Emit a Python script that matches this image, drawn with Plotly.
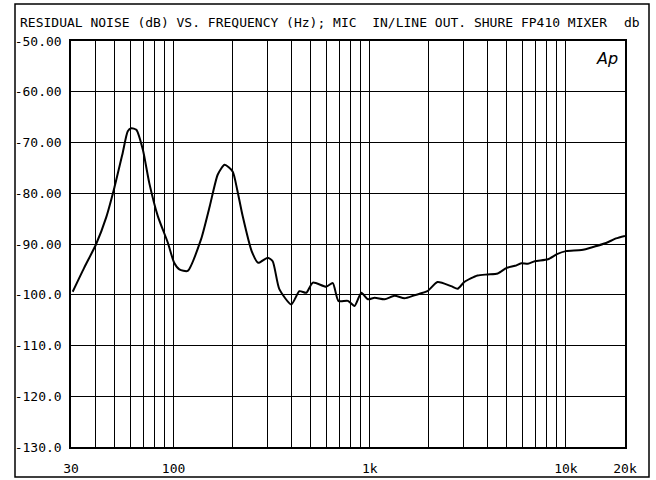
import plotly.graph_objects as go

# ---- data ----
freq_hz = [30.6, 35.0, 40.2, 45.3, 49.9, 55.0, 58.4, 60.9, 64.6, 69.7, 75.2, 83.1, 93.4, 100.7, 107,
           118, 138, 153, 168, 182, 200, 211, 225,
           250, 270, 302, 320, 346, 398, 438, 475, 513, 600, 648, 692, 774, 837, 906, 979, 1059,
           1190, 1338, 1503, 1690, 1968, 2214, 2598, 2808, 3034, 3540, 3990, 4490, 4990, 5500,
           5920, 6400, 6940, 8100, 9000, 10000, 12000, 14000, 16000, 18000, 20000]
noise_db = [-99.4, -94.7, -90.1, -84.8, -78.9, -72.1, -67.8, -67.2, -67.5, -71.4, -78.0, -84.5, -89.7,
            -93.7, -95.0, -95.3, -89.1, -82.5, -76.3, -74.4, -75.7, -79.3, -84.5,
            -91.4, -93.7, -92.7, -93.4, -98.9, -101.9, -99.3, -99.6, -97.6,
            -98.4, -97.7, -101.2, -101.2, -102.2, -99.6, -100.9, -100.6, -100.9, -100.2, -100.7,
            -100.1, -99.3, -97.5, -98.3, -98.8, -97.5, -96.2, -96.0, -95.8, -94.7, -94.3, -93.8,
            -93.9, -93.4, -93.0, -92.0, -91.4, -91.2, -90.5, -89.8, -88.9, -88.4]

x_grid_vals = [30, 40, 50, 60, 70, 80, 90, 100, 200, 300, 400, 500, 600, 700, 800, 900, 1000,
               2000, 3000, 4000, 5000, 6000, 7000, 8000, 9000, 10000, 20000]
x_grid_text = ["30", "", "", "", "", "", "", "100", "", "", "", "", "", "", "", "", "1k",
               "", "", "", "", "", "", "", "", "10k", "20k"]
y_tick_vals = [-50, -60, -70, -80, -90, -100, -110, -120, -130]
y_tick_text = ["-50.00", "-60.00", "-70.00", "-80.00", "-90.00", "-100.0", "-110.0", "-120.0", "-130.0"]

title_text = "RESIDUAL NOISE (dB) VS. FREQUENCY (Hz); MIC  IN/LINE OUT. SHURE FP410 MIXER"
unit_text = "db"
logo_text = "Ap"

FONT = "DejaVu Sans Mono"

fig = go.Figure()
fig.add_trace(go.Scatter(x=freq_hz, y=noise_db, mode="lines",
                         line=dict(color="black", width=2, shape="spline", smoothing=0.6),
                         showlegend=False, hoverinfo="skip"))

W, H = 656, 480
L, R, T, B = 71, 625, 41, 447
pw, ph = R - L, B - T

def px(x):
    return (x - L) / pw

def py(y):
    return (B - y) / ph

fig.update_layout(
    width=W, height=H,
    margin=dict(l=L, r=W - R, t=T, b=H - B, autoexpand=False),
    paper_bgcolor="white", plot_bgcolor="white",
    font=dict(family=FONT, size=13, color="black"),
    xaxis=dict(type="log", range=[1.4771213, 4.30103], tickmode="array",
               tickvals=x_grid_vals, ticktext=x_grid_text,
               showgrid=True, gridcolor="black", gridwidth=1,
               showline=True, linecolor="black", linewidth=1.5, mirror=True,
               ticks="", ticklabelstandoff=9, zeroline=False, automargin=False),
    yaxis=dict(range=[-130, -50], tickmode="array", tickvals=y_tick_vals, ticktext=y_tick_text,
               showgrid=True, gridcolor="black", gridwidth=1,
               showline=True, linecolor="black", linewidth=1.5, mirror=True,
               ticks="", ticklabelstandoff=5, zeroline=False, automargin=False),
    shapes=[dict(type="rect", xref="paper", yref="paper",
                 x0=px(15), x1=px(649), y0=py(477), y1=py(4),
                 line=dict(color="black", width=1.5), fillcolor="rgba(0,0,0,0)", layer="below")],
    annotations=[
        dict(text=title_text, xref="paper", yref="paper", x=px(18), y=py(23),
             xanchor="left", yanchor="middle", showarrow=False,
             font=dict(family=FONT, size=13, color="black")),
        dict(text=unit_text, xref="paper", yref="paper", x=px(642), y=py(23),
             xanchor="right", yanchor="middle", showarrow=False,
             font=dict(family=FONT, size=13, color="black")),
        dict(text="<i>" + logo_text + "</i>", xref="paper", yref="paper", x=px(620), y=py(58),
             xanchor="right", yanchor="middle", showarrow=False,
             font=dict(family="DejaVu Sans", size=16, color="black")),
    ],
)

fig.write_html("out.html")
